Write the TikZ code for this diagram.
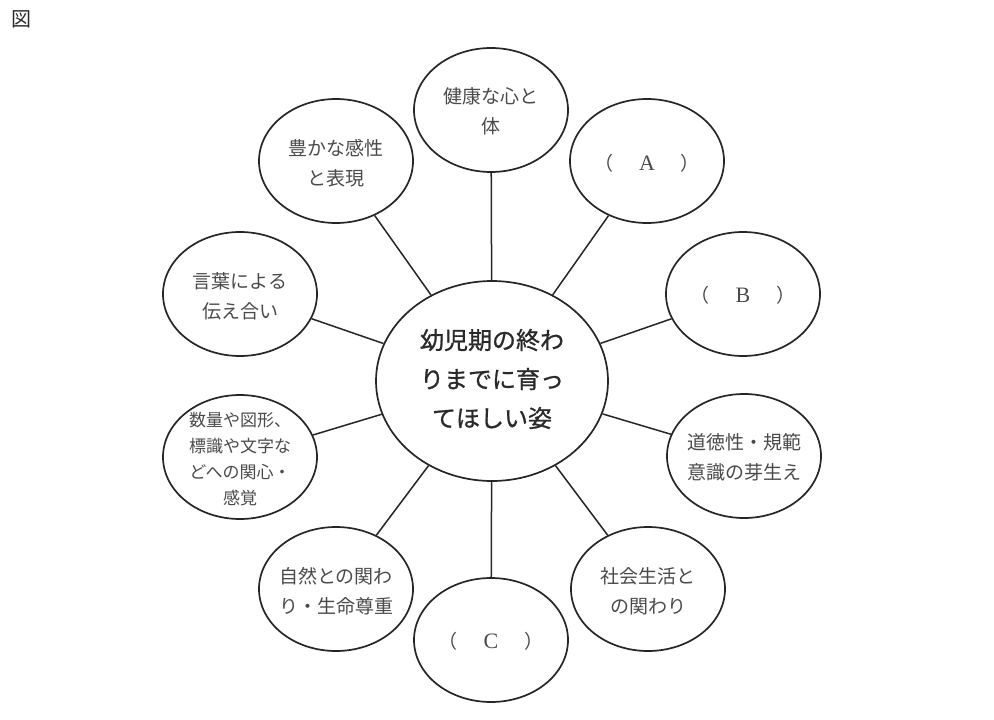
\documentclass[tikz,border=0pt]{standalone}
\usepackage{fontspec}
\setmainfont{Noto Sans CJK JP}
\newfontfamily\jpfont{Noto Sans CJK JP}
\newfontfamily\jphub[FakeBold=1.0]{Noto Sans CJK JP}
\newfontfamily\latserif{Liberation Serif}
\usetikzlibrary{shapes.geometric}
\definecolor{inkline}{HTML}{262626}
\definecolor{inktext}{HTML}{4A4A4A}
\definecolor{inkmain}{HTML}{2A2A2A}
\tikzset{
  outer/.style={ellipse, draw=inkline, line width=1.7pt, minimum width=154pt, minimum height=124pt, inner sep=0pt},
  hub/.style={ellipse, draw=inkline, line width=1.7pt, minimum width=232pt, minimum height=200pt, inner sep=0pt},
  otext/.style={align=center, text=inktext, font=\jpfont\fontsize{19}{30}\selectfont, inner sep=0pt},
  stext/.style={align=center, text=inktext, font=\jpfont\fontsize{17}{26}\selectfont, inner sep=0pt},
  htext/.style={align=center, text=inkmain, font=\jphub\fontsize{24}{39}\selectfont, inner sep=0pt},
  spoke/.style={draw=inkline, line width=1.5pt}
}
\begin{document}
\begin{tikzpicture}[x=1pt,y=-1pt]
\useasboundingbox[fill=white] (0,0) rectangle (994,720);
\node[text=inkmain, font=\jpfont\fontsize{20}{22}\selectfont, inner sep=0pt] (fig) at (22,19) {図};

\node[hub] (hub) at (492,381) {};
\node[htext] (hubt) at (492,379) {幼児期の終わ\\りまでに育っ\\てほしい姿};

\node[outer] (o1) at (491,110) {};
\node[outer] (o2) at (647,161) {};
\node[outer] (o3) at (743,294) {};
\node[outer] (o4) at (744,456) {};
\node[outer] (o5) at (648,589) {};
\node[outer] (o6) at (491,640) {};
\node[outer] (o7) at (336,589) {};
\node[outer] (o8) at (240,457) {};
\node[outer] (o9) at (240,294) {};
\node[outer] (o10) at (336,161) {};

\node[otext] (t1) at (491,111) {健康な心と\\体};
\node[otext] (t2) at (647,163) {（\hspace{26pt}{\latserif\fontsize{22}{24}\selectfont A}\hspace{26pt}）};
\node[otext] (t3) at (743,295) {（\hspace{26pt}{\latserif\fontsize{22}{24}\selectfont B}\hspace{26pt}）};
\node[otext] (t4) at (744,457) {道徳性・規範\\意識の芽生え};
\node[otext] (t5) at (648,591) {社会生活と\\の関わり};
\node[otext] (t6) at (491,641) {（\hspace{26pt}{\latserif\fontsize{22}{24}\selectfont C}\hspace{26pt}）};
\node[otext] (t7) at (336,591) {自然との関わ\\り・生命尊重};
\node[stext] (t8) at (240,459) {数量や図形、\\標識や文字な\\どへの関心・\\感覚};
\node[otext] (t9) at (240,296) {言葉による\\伝え合い};
\node[otext] (t10) at (336,163) {豊かな感性\\と表現};

\foreach \i in {1,...,10} {
  \draw[spoke] (hub) -- (o\i);
}
\end{tikzpicture}
\end{document}
